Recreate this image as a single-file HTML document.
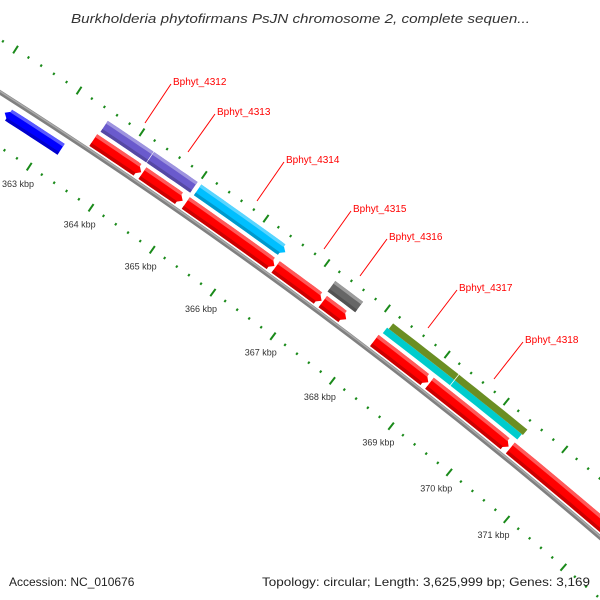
<!DOCTYPE html>
<html><head><meta charset="utf-8"><style>
html,body{margin:0;padding:0;background:#fff;overflow:hidden;}
svg{display:block;font-family:"Liberation Sans",sans-serif;}
</style></head><body>
<svg id="map" width="600" height="600" viewBox="0 0 600 600">
<rect width="600" height="600" fill="#fff"/>
<text x="71" y="23" font-size="13" font-style="italic" fill="#333" textLength="459" lengthAdjust="spacingAndGlyphs">Burkholderia phytofirmans PsJN chromosome 2, complete sequen...</text>
<g id="ticks"></g>
<g id="backbone"></g>
<g id="features"></g>
<g id="labels">
<line x1="145" y1="123" x2="171" y2="84" stroke="#f00" stroke-width="1"/>
<text x="173" y="85" font-size="10" fill="#f00">Bphyt_4312</text>
<line x1="188" y1="152" x2="215" y2="114" stroke="#f00" stroke-width="1"/>
<text x="217" y="115" font-size="10" fill="#f00">Bphyt_4313</text>
<line x1="257" y1="201" x2="284" y2="162" stroke="#f00" stroke-width="1"/>
<text x="286" y="163" font-size="10" fill="#f00">Bphyt_4314</text>
<line x1="324" y1="249" x2="351" y2="211" stroke="#f00" stroke-width="1"/>
<text x="353" y="212" font-size="10" fill="#f00">Bphyt_4315</text>
<line x1="360" y1="276" x2="387" y2="239" stroke="#f00" stroke-width="1"/>
<text x="389" y="240" font-size="10" fill="#f00">Bphyt_4316</text>
<line x1="428" y1="328" x2="457" y2="290" stroke="#f00" stroke-width="1"/>
<text x="459" y="291" font-size="10" fill="#f00">Bphyt_4317</text>
<line x1="494" y1="379" x2="523" y2="342" stroke="#f00" stroke-width="1"/>
<text x="525" y="343" font-size="10" fill="#f00">Bphyt_4318</text>
</g>
<text x="9" y="586" font-size="12" fill="#222">Accession: NC_010676</text>
<text x="262" y="586" font-size="12" fill="#222" textLength="328" lengthAdjust="spacingAndGlyphs">Topology: circular; Length: 3,625,999 bp; Genes: 3,169</text>
</svg>
<script>
const majorTicks = [361,362,363,364,365,366,367,368,369,370,371,372];
const tickLabels = ["361 kbp","362 kbp","363 kbp","364 kbp","365 kbp","366 kbp","367 kbp","368 kbp","369 kbp","370 kbp","371 kbp",""];
const featureNames = ["blue-gene","bphyt-4312","bphyt-4313","bphyt-4314","red-1","red-2","red-3","red-4","red-5","bphyt-4316","red-6","red-7","red-8","bphyt-4317-a","bphyt-4317-b","bphyt-4318-a","bphyt-4318-b"];
const featureStarts = [362.33,363.54,364.28,365.04,363.52,364.31,365.01,366.48,367.26,367.23,368.12,369.05,370.43,368.15,369.29,368.18,369.29];
const featureEnds   = [363.23,364.27,364.98,366.47,364.29,364.96,366.46,367.24,367.65,367.69,369.03,370.40,373.5,369.28,370.43,369.28,370.45];
const featureStrand = [-1,0,0,1,1,1,1,1,1,0,1,1,1,0,0,0,0];
const featureTrack  = ["minus","outer","outer","outer","plus","plus","plus","plus","plus","outer","plus","plus","plus","lowhalf","lowhalf","highhalf","highhalf"];
const featureColor  = ["#0000ff","#6a5acd","#6a5acd","#00bfff","#ff0000","#ff0000","#ff0000","#ff0000","#ff0000","#666666","#ff0000","#ff0000","#ff0000","#00cccc","#00cccc","#6b8e23","#6b8e23"];

const NS="http://www.w3.org/2000/svg";
const CX=-2829, CY=4534;
const a0=Math.atan2(167-CY,29-CX), a1=Math.atan2(519-CY,507-CX);
const K=(a1-a0)/8;
function ang(k){return a0+(k-363)*K;}
function pt(k,r){const a=ang(k);return [CX+r*Math.cos(a),CY+r*Math.sin(a)];}
const tracks={minus:[5245,5258],plus:[5270,5284],outer:[5288,5301],lowhalf:[5288,5295],highhalf:[5295,5302]};
function shade(hex,f){let n=parseInt(hex.slice(1),16);let c=[n>>16,(n>>8)&255,n&255];
 c=c.map(v=>f>0?Math.round(v+(255-v)*f):Math.round(v*(1+f)));return "rgb("+c.join(",")+")";}
function arcPoly(s,e,ri,ro,dir,hk){
 const pts=[];const n=8;
 let ss=s,ee=e;
 if(dir===1)ee=e-hk; if(dir===-1)ss=s+hk;
 for(let i=0;i<=n;i++)pts.push(pt(ss+(ee-ss)*i/n,ro));
 if(dir===1)pts.push(pt(e,(ri+ro)/2));
 for(let i=n;i>=0;i--)pts.push(pt(ss+(ee-ss)*i/n,ri));
 if(dir===-1)pts.push(pt(s,(ri+ro)/2));
 return pts.map(p=>p[0].toFixed(1)+","+p[1].toFixed(1)).join(" ");
}
const bb=document.getElementById('backbone');
function arcPath(r,k0,k1){const p0=pt(k0,r),p1=pt(k1,r);return `M${p0[0]},${p0[1]} A${r},${r} 0 0 1 ${p1[0]},${p1[1]}`;}
let p=document.createElementNS(NS,'path');
p.setAttribute('d',arcPath(5266,360,374));p.setAttribute('fill','none');p.setAttribute('stroke','#808080');p.setAttribute('stroke-width','4.5');


bb.appendChild(p);
p=document.createElementNS(NS,'path');
p.setAttribute('d',arcPath(5267,360,374));p.setAttribute('fill','none');p.setAttribute('stroke','#aaaaaa');p.setAttribute('stroke-width','1.5');


bb.appendChild(p);
const tg=document.getElementById('ticks');
function tick(k,r0,r1,w,name){const A=pt(k,r0),B=pt(k,r1);const l=document.createElementNS(NS,'line');
 l.setAttribute('x1',A[0]);l.setAttribute('y1',A[1]);l.setAttribute('x2',B[0]);l.setAttribute('y2',B[1]);
 l.setAttribute('stroke','#1a8a1a');l.setAttribute('stroke-width',w);
 
 
 tg.appendChild(l);}
majorTicks.forEach((m,i)=>{
 for(let j=0;j<5;j++){const k=m+j*0.2;
  if(j===0){tick(k,5215,5224,2,'inner-major-tick');tick(k,5306,5315,2,'outer-major-tick');}
  else{tick(k,5218.5,5221,2,'inner-minor-tick');tick(k,5309.5,5312,2,'outer-minor-tick');}
 }
 if(!tickLabels[i])return;
 const L=pt(m,5199);const t=document.createElementNS(NS,'text');
 t.setAttribute('x',L[0].toFixed(1));t.setAttribute('y',(L[1]+3).toFixed(1));t.setAttribute('text-anchor','middle');
 t.setAttribute('font-size','9');t.setAttribute('fill','#333');t.textContent=tickLabels[i];
 
 
 tg.appendChild(t);
});
const fg=document.getElementById('features');
featureNames.forEach((nm,i)=>{
 const [ri,ro]=tracks[featureTrack[i]];const dir=featureStrand[i];const col=featureColor[i];
 const g=document.createElementNS(NS,'g');
 
 
 const hk=0.1;
 const base=document.createElementNS(NS,'polygon');
 base.setAttribute('points',arcPoly(featureStarts[i],featureEnds[i],ri,ro,dir,hk));base.setAttribute('fill',col);
 g.appendChild(base);
 const h=ro-ri;
 if(h>8){
  const hi=document.createElementNS(NS,'polygon');
  hi.setAttribute('points',arcPoly(featureStarts[i]+(dir===-1?0.06:0),featureEnds[i]-(dir===1?0.06:0),ro-h*0.25,ro,0,0));
  hi.setAttribute('fill',shade(col,0.35));g.appendChild(hi);
  const lo=document.createElementNS(NS,'polygon');
  lo.setAttribute('points',arcPoly(featureStarts[i]+(dir===-1?0.06:0),featureEnds[i]-(dir===1?0.06:0),ri,ri+h*0.25,0,0));
  lo.setAttribute('fill',shade(col,-0.2));g.appendChild(lo);
 }
 fg.appendChild(g);
});
</script>
</body></html>
